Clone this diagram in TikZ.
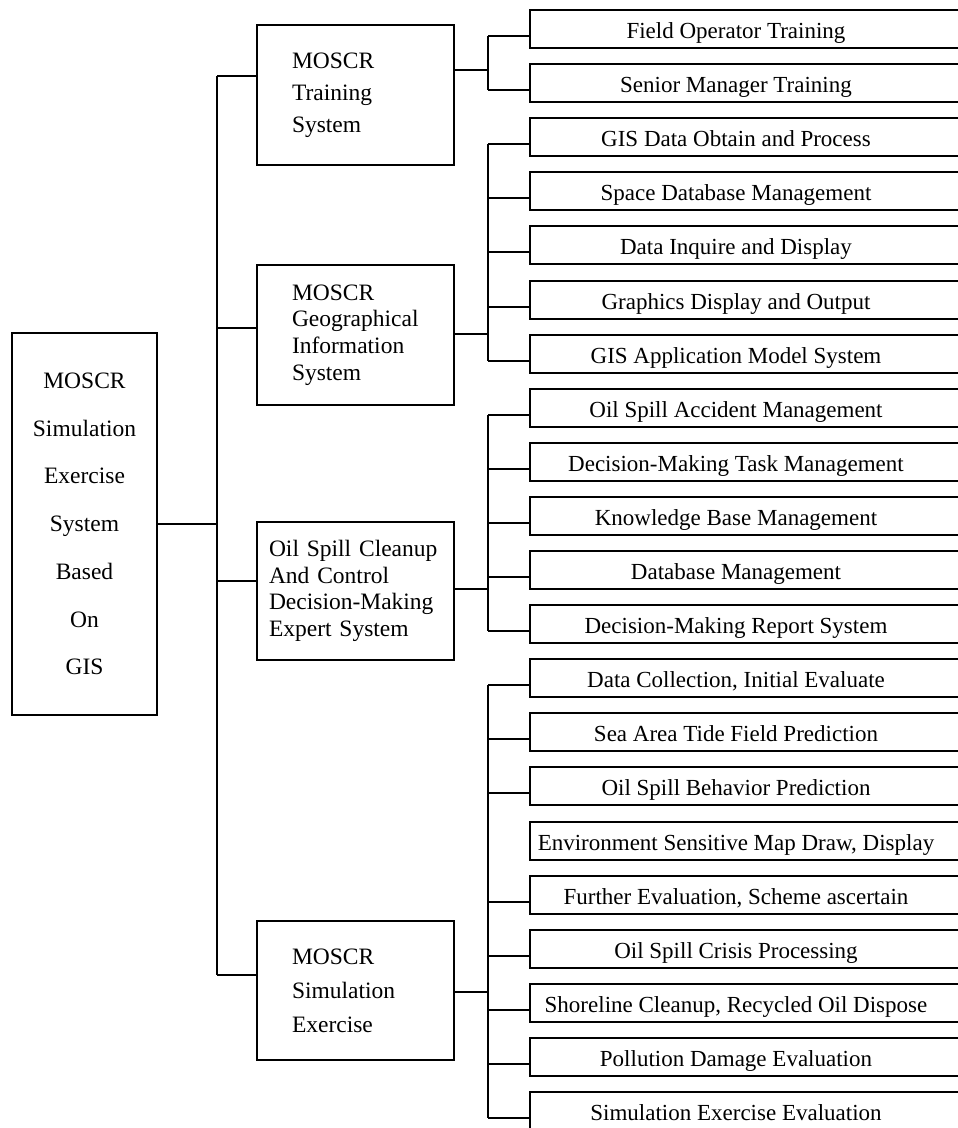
\documentclass[tikz,border=0pt]{standalone}
\usepackage{fontspec}
\setmainfont{Liberation Serif}
\def\nohy{\hyphenpenalty=10000 \exhyphenpenalty=10000 }
\begin{document}
\begin{tikzpicture}[x=1pt,y=-1pt, line width=1.6pt,
  rootbox/.style={draw, rectangle, outer sep=0pt, inner sep=0pt, align=center,
    minimum width=145pt, minimum height=382pt, font=\fontsize{23.5}{47.7}\selectfont},
  midbox/.style={draw, rectangle, outer sep=0pt, inner ysep=0pt, anchor=north west,
    align=left, minimum width=197pt},
  leafbox/.style={draw, rectangle, outer sep=0pt, inner sep=0pt, anchor=north west,
    minimum width=470pt, minimum height=38pt},
  leaftext/.style={font=\fontsize{23}{26}\selectfont, text height=15pt, text depth=5pt, inner sep=0pt}]
\fill[white] (0,0) rectangle (958,1128);
\useasboundingbox (0,0) rectangle (958,1128);
\clip (0,0) rectangle (958,1128);

% root
\node[rootbox] (root) at (84.5,524) {MOSCR\\Simulation\\Exercise\\System\\Based\\On\\GIS};

% second level
\node[midbox, minimum height=140pt, text width=127pt, inner xsep=35pt,
  font=\fontsize{23.5}{32}\selectfont\nohy] (train) at (257,25) {MOSCR\\Training\\System};
\node[midbox, minimum height=140pt, text width=127pt, inner xsep=35pt,
  font=\fontsize{23.5}{26.7}\selectfont\nohy] (gis) at (257,265) {MOSCR\\Geographical\\Information\\System};
\node[midbox, minimum height=138pt, text width=173pt, inner xsep=12pt,
  font=\fontsize{23.5}{26.7}\selectfont\nohy] (oil) at (257,522) {Oil Spill Cleanup\\And Control\\Decision-Making\\Expert System};
\node[midbox, minimum height=139pt, text width=127pt, inner xsep=35pt,
  font=\fontsize{23.5}{34}\selectfont\nohy] (sim) at (257,921) {MOSCR\\Simulation\\Exercise};

% leaves
\foreach \i/\t in {0/{Field Operator Training},1/{Senior Manager Training},
  2/{GIS Data Obtain and Process},3/{Space Database Management},
  4/{Data Inquire and Display},5/{Graphics Display and Output},
  6/{GIS Application Model System},7/{Oil Spill Accident Management},
  8/{Decision-Making Task Management},9/{Knowledge Base Management},
  10/{Database Management},11/{Decision-Making Report System},
  12/{Data Collection, Initial Evaluate},13/{Sea Area Tide Field Prediction},
  14/{Oil Spill Behavior Prediction},15/{Environment Sensitive Map Draw, Display},
  16/{Further Evaluation, Scheme ascertain},17/{Oil Spill Crisis Processing},
  18/{Shoreline Cleanup, Recycled Oil Dispose},19/{Pollution Damage Evaluation},
  20/{Simulation Exercise Evaluation}} {
  \pgfmathsetmacro\tp{round(10+54.1*\i)}
  \pgfmathsetmacro\cy{\tp+23}
  \node[leafbox] (L\i) at (530,\tp) {};
  \node[leaftext] (T\i) at (736,\cy) {\t};
  \coordinate (c\i) at ([yshift=-7pt]L\i.west);
}

% trunk
\coordinate (j1) at (217,76);
\coordinate (j2) at (217,328);
\coordinate (j3) at (217,581);
\coordinate (j4) at (217,975);
\draw (root.east) -- (root.east -| j1);
\draw (j1) -- (j4);
\draw (j1) -- (j1 -| train.west);
\draw (j2) -- (j2 -| gis.west);
\draw (j3) -- (j3 -| oil.west);
\draw (j4) -- (j4 -| sim.west);

% buses
\coordinate (b1) at (488,70);
\coordinate (b2) at (488,334);
\coordinate (b3) at (488,589);
\coordinate (b4) at (488,992);
\draw (b1 -| train.east) -- (b1);
\draw (b2 -| gis.east) -- (b2);
\draw (b3 -| oil.east) -- (b3);
\draw (b4 -| sim.east) -- (b4);

\draw (c0 -| b1) -- (c1 -| b1);
\draw (c2 -| b2) -- (c6 -| b2);
\draw (c7 -| b3) -- (c11 -| b3);
\draw (c12 -| b4) -- (c20 -| b4);

\foreach \i in {0,1} \draw (c\i -| b1) -- (c\i);
\foreach \i in {2,...,6} \draw (c\i -| b2) -- (c\i);
\foreach \i in {7,...,11} \draw (c\i -| b3) -- (c\i);
\foreach \i in {12,13,14,16,17,18,19,20} \draw (c\i -| b4) -- (c\i);
\end{tikzpicture}
\end{document}
